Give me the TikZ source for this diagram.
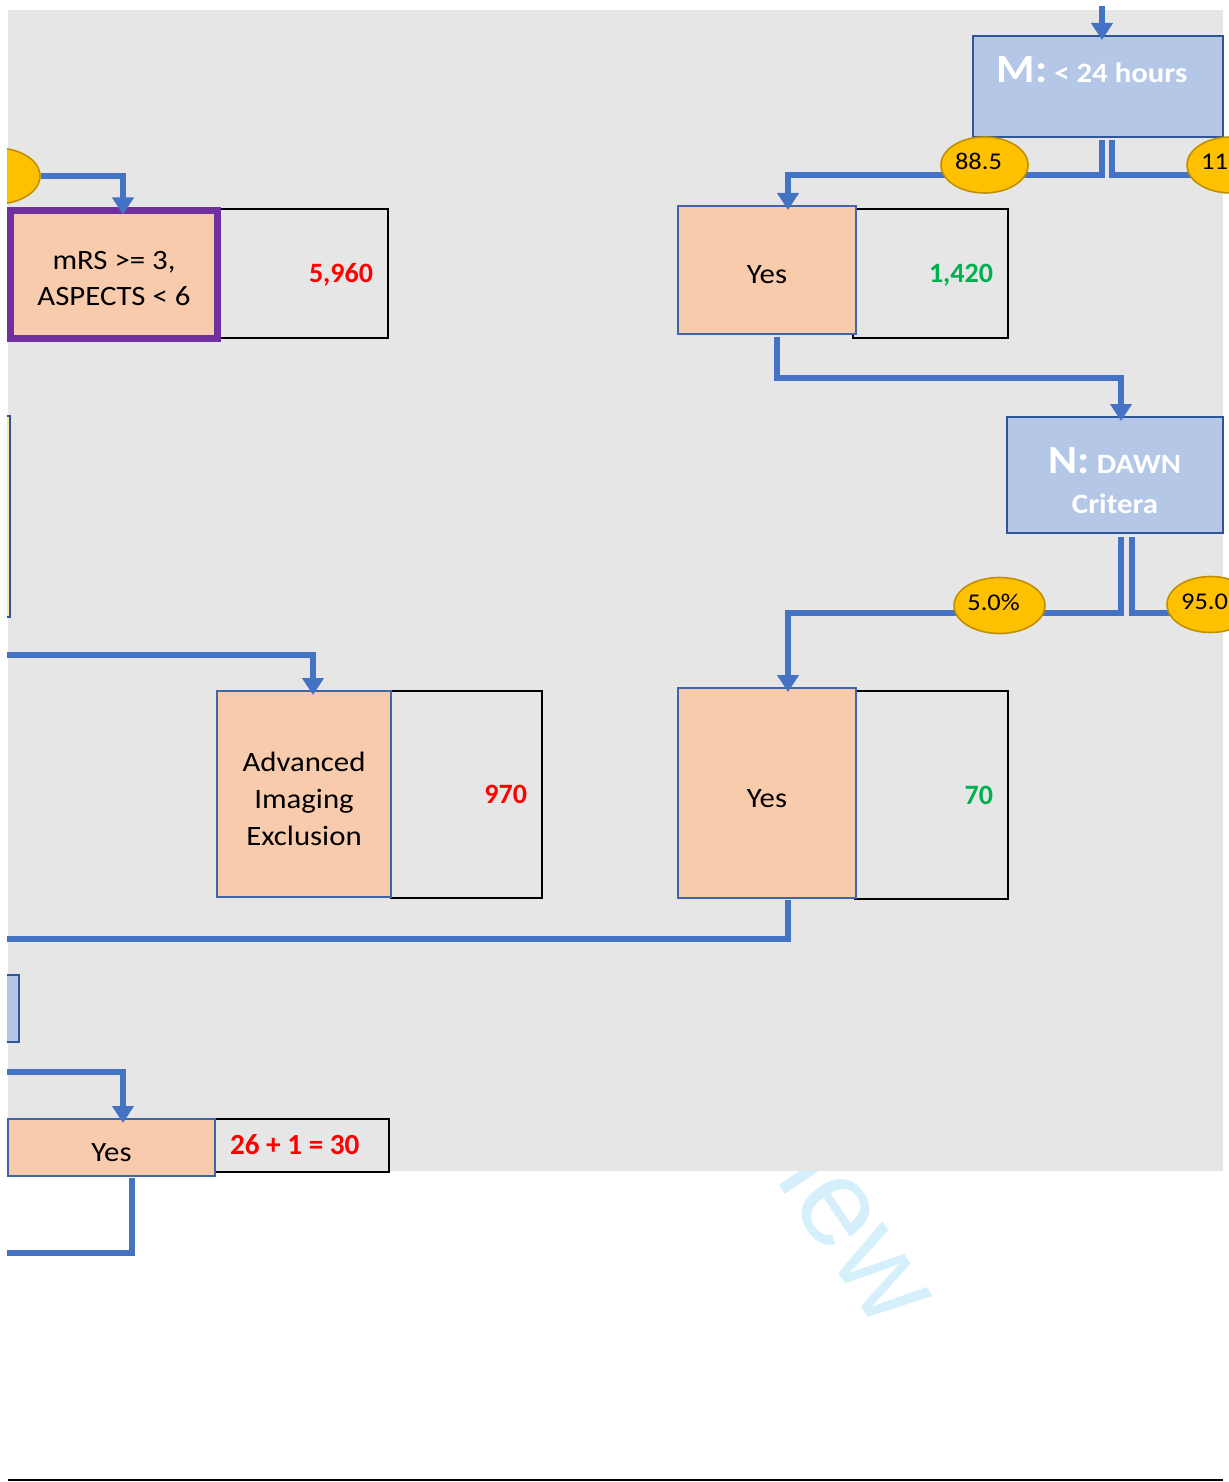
\documentclass[tikz,border=0pt]{standalone}
\usepackage{fontspec}
\setmainfont{Carlito}
\newfontfamily\bx{Carlito}[FakeStretch=1.1]
\newfontfamily\wmfont{Liberation Sans}
\usetikzlibrary{arrows.meta,shapes.geometric}
\definecolor{bggray}{HTML}{E7E6E6}
\definecolor{peach}{HTML}{F8CBAD}
\definecolor{lblue}{HTML}{B4C7E7}
\definecolor{dblue}{HTML}{2F5597}
\definecolor{yborder}{HTML}{3F66A8}
\definecolor{lineblue}{HTML}{4472C4}
\definecolor{gold}{HTML}{FFC000}
\definecolor{darkgold}{HTML}{BF9000}
\definecolor{purp}{HTML}{7030A0}
\definecolor{numred}{HTML}{FF0000}
\definecolor{numgreen}{HTML}{00B050}
\definecolor{lyellow}{HTML}{FFE699}
\definecolor{wmcol}{HTML}{D6F0FB}
\newcommand\pl[2]{\raisebox{#1}[0pt][0pt]{#2}}
\newcommand\ovt[2][6pt]{\raisebox{-2.5pt}[0pt][0pt]{#2\hspace{#1}}}
\begin{document}
\begin{tikzpicture}[x=0.5pt,y=-0.5pt,
  yesbox/.style={draw=yborder, line width=1pt, fill=peach, inner sep=0pt, outer sep=0pt,
    font=\bx\fontsize{14}{18.5}\selectfont},
  numbox/.style={draw=black, line width=1.2pt, fill=bggray, inner sep=0pt, outer sep=0pt,
    font=\fontsize{14}{17}\selectfont\bfseries},
  infobox/.style={draw=dblue, line width=1pt, fill=lblue, inner sep=0pt, outer sep=0pt,
    text=white, font=\bx\bfseries\fontsize{14}{20}\selectfont},
  oval/.style={ellipse, draw=darkgold, line width=0.8pt, fill=gold, minimum width=43.5pt,
    minimum height=28pt, inner sep=0pt, font=\bx\fontsize{12}{14}\selectfont},
  conn/.style={draw=lineblue, line width=2.75pt},
  arr/.style={conn, -{Triangle[length=8.5pt,width=10.5pt]}, shorten >=-2pt}
]
\useasboundingbox (0,0) rectangle (1229,1482);
\fill[white] (0,0) rectangle (1229,1482);
\node[text=wmcol, font=\wmfont\fontsize{62}{66}\selectfont, rotate=-56, anchor=base west, inner sep=0pt] (wm) at (774,1178) {iew};
\fill[bggray] (8,10) rectangle (1223,1171);
\draw[line width=1.2pt] (8,1480) -- (1223,1480);
\begin{scope}
\clip (7,7) rectangle (1229,1482);
% side boxes
\node[infobox, fill=lyellow, line width=1.2pt, minimum width=25pt, minimum height=100.5pt] (ybox) at (-15,516.5) {};
\node[infobox, minimum width=24.5pt, minimum height=33.5pt] (bbox) at (-5.5,1008.5) {};
% number boxes
\node[numbox, text=numred, minimum width=85pt, minimum height=64.5pt] (n5960) at (303,273.5) {\pl{-4.75pt}{\makebox[70pt][r]{5,960}}};
\node[numbox, text=numgreen, minimum width=77.5pt, minimum height=64.5pt] (n1420) at (930.5,273.5) {\pl{-4.75pt}{\makebox[62.5pt][r]{1,420}}};
\node[numbox, text=numred, minimum width=75.5pt, minimum height=103.5pt] (n970) at (466.5,794.5) {\pl{-4.25pt}{\makebox[60.5pt][r]{970}}};
\node[numbox, text=numgreen, minimum width=76.5pt, minimum height=104pt] (n70) at (931.5,795) {\pl{-4.5pt}{\makebox[61.5pt][r]{70}}};
\node[numbox, text=numred, minimum width=87pt, minimum height=26.5pt, font=\fontsize{14.6}{17}\selectfont\bfseries] (n30) at (302,1145.5) {\pl{-4.25pt}{\makebox[72pt][l]{26 + 1 = 30}}};
% condition boxes
\node[yesbox, draw=purp, line width=3.5pt, minimum width=103.5pt, minimum height=64pt, font=\bx\fontsize{14}{18}\selectfont] (mrs) at (114,274.5)
  {\pl{2.25pt}{\begin{tabular}[t]{@{}c@{}}mRS >= 3,\\ ASPECTS < 6\end{tabular}}};
\node[yesbox, minimum width=89pt, minimum height=64pt] (yes1) at (767,270) {\pl{-7pt}{Yes}};
\node[yesbox, minimum width=87pt, minimum height=103pt] (adv) at (304,794)
  {\pl{11.5pt}{\begin{tabular}[t]{@{}c@{}}Advanced\\ Imaging\\ Exclusion\end{tabular}}};
\node[yesbox, minimum width=89pt, minimum height=105pt] (yes2) at (767,793) {\pl{-7pt}{Yes}};
\node[yesbox, minimum width=103.5pt, minimum height=28.5pt] (yes3) at (111.5,1147.5) {\pl{-6.75pt}{Yes}};
\node[infobox, minimum width=125pt, minimum height=50.5pt] (mbox) at (1098,86.5)
  {\pl{1.75pt}{{\fontsize{20}{22}\selectfont M:} < 24 hours\hspace{6pt}}};
\node[infobox, minimum width=108pt, minimum height=58pt] (nbox) at (1115,475)
  {\pl{1pt}{\begin{tabular}[t]{@{}c@{}}{\fontsize{20}{22}\selectfont N:} DAWN\\ Critera\end{tabular}}};
% free ends
\coordinate (mtop) at (1102,0);
\coordinate (r1) at (1240,175);
\coordinate (r2) at (1240,613);
\coordinate (l1) at (0,939);
\coordinate (l2) at (0,655);
\coordinate (l3) at (0,1072);
\coordinate (l4) at (0,1253);
% connectors
\draw[arr] (mtop) -- ([xshift=2pt]mbox.north);
\draw[arr] ([xshift=2pt,yshift=-1.5pt]mbox.south) -- ++(0,35) -| ([xshift=10.5pt]yes1.north);
\draw[conn] ([xshift=7pt,yshift=-1.5pt]mbox.south) -- ++(0,35) -- (r1);
\draw[arr] ([xshift=5pt,yshift=-1.5pt]yes1.south) -- ++(0,41) -| ([xshift=3pt]nbox.north);
\draw[arr] ([xshift=3pt,yshift=-2pt]nbox.south) -- ++(0,76) -| ([xshift=10.5pt]yes2.north);
\draw[conn] ([xshift=8.5pt,yshift=-2pt]nbox.south) -- ++(0,76) -- (r2);
\draw[conn] ([xshift=10.5pt,yshift=-1pt]yes2.south) -- ++(0,39) -- (l1);
\draw[arr] (l2) -| ([xshift=4.5pt]adv.north);
\draw[arr] (l3) -| ([xshift=5.75pt]yes3.north);
\draw[conn] ([xshift=10.25pt,yshift=-1pt]yes3.south) -- ++(0,75) -- (l4);
% ovals
\node[oval] (e885) at (984.5,165) {\ovt{88.5}};
\node[oval] (e11) at (1230.5,165) {\ovt[16pt]{11}};
\node[oval] (e50) at (999.5,605.5) {\ovt{5.0\%}};
\node[oval] (e950) at (1210.5,604.5) {\ovt{95.0}};
\node[oval] (eleft) at (-3.5,176) {};
\draw[arr] (eleft.east) -| ([xshift=4.5pt]mrs.north);
\end{scope}
\end{tikzpicture}
\end{document}
